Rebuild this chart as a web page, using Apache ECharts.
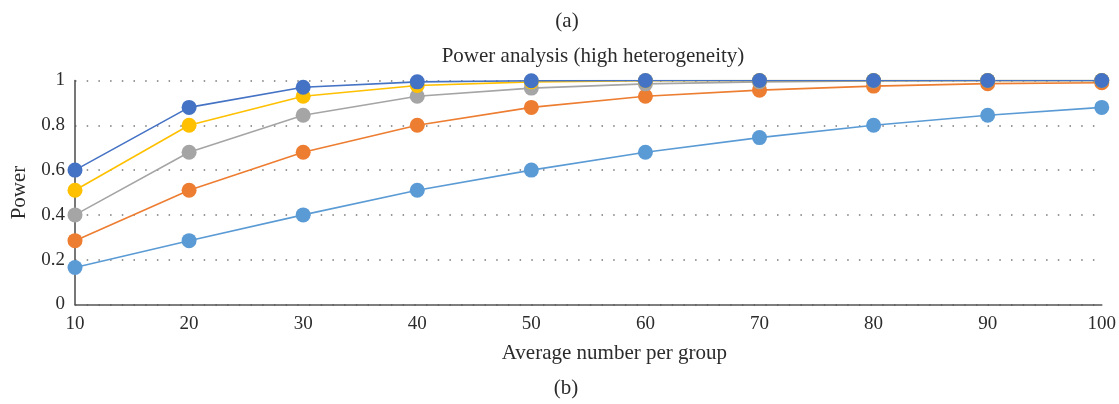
<!DOCTYPE html>
<html>
<head>
<meta charset="utf-8">
<script src="https://cdn.jsdelivr.net/npm/echarts@6/dist/echarts.min.js"></script>
<style>
html,body{margin:0;padding:0;background:#fff;}
#main{width:1119px;height:404px;}
</style>
</head>
<body>
<div id="main"></div>
<script>
// group size along x axis
var groupSizes = [10, 20, 30, 40, 50, 60, 70, 80, 90, 100];
// power values, one array per curve
var powerLightBlue = [0.165, 0.285, 0.40, 0.51, 0.60, 0.68, 0.745, 0.80, 0.845, 0.88];
var powerOrange    = [0.285, 0.51, 0.68, 0.80, 0.88, 0.93, 0.957, 0.975, 0.986, 0.99];
var powerGray      = [0.40, 0.68, 0.845, 0.93, 0.966, 0.985, 0.994, 0.998, 1, 1];
var powerYellow    = [0.51, 0.80, 0.93, 0.978, 0.994, 0.999, 1, 1, 1, 1];
var powerDarkBlue  = [0.60, 0.88, 0.97, 0.994, 0.999, 1, 1, 1, 1, 1];
var yTicks = [0, 0.2, 0.4, 0.6, 0.8, 1];

var FONT = 'Liberation Serif';
var TEXT = '#2b2b2b';

function pairs(ys) {
	var out = [];
	for (var i = 0; i < groupSizes.length; i++) {
		out.push([groupSizes[i], ys[i]]);
	}
	return out;
}

function mkSeries(name, ys, color) {
	return {
		name: name,
		type: 'line',
		data: pairs(ys),
		symbol: 'circle',
		symbolSize: 15,
		lineStyle: {color: color, width: 1.6},
		itemStyle: {color: color},
		animation: false
	};
}

var myChart = echarts.init(document.getElementById('main'));
myChart.setOption({
	backgroundColor: '#fff',
	title: [
		{text: '(a)', left: 562, textAlign: 'center', top: 6, textStyle: {fontFamily: FONT, fontSize: 21, fontWeight: 'normal', color: TEXT}},
		{text: 'Power analysis (high heterogeneity)', left: 588, textAlign: 'center', top: 41, textStyle: {fontFamily: FONT, fontSize: 21, fontWeight: 'normal', color: TEXT}},
		{text: '(b)', left: 561, textAlign: 'center', top: 373, textStyle: {fontFamily: FONT, fontSize: 21, fontWeight: 'normal', color: TEXT}}
	],
	grid: {left: 75, right: 17, top: 80.5, bottom: 99.5, containLabel: false},
	xAxis: {
		type: 'value',
		min: 10,
		max: 100,
		interval: 10,
		name: 'Average number per group',
		nameLocation: 'middle',
		nameGap: 38,
		nameTextStyle: {fontFamily: FONT, fontSize: 21, color: TEXT, padding: [0, 0, 0, 52]},
		axisLine: {lineStyle: {color: '#555', width: 1.6}},
		axisTick: {show: false},
		axisLabel: {fontFamily: FONT, fontSize: 19, color: TEXT, margin: 10},
		splitLine: {show: false}
	},
	yAxis: {
		type: 'value',
		min: 0,
		max: 1,
		interval: 0.2,
		name: 'Power',
		nameLocation: 'middle',
		nameGap: 45,
		nameTextStyle: {fontFamily: FONT, fontSize: 21, color: TEXT},
		axisLine: {show: true, lineStyle: {color: '#555', width: 1.6}},
		axisTick: {show: false},
		axisLabel: {
			fontFamily: FONT, fontSize: 19, color: TEXT, margin: 10,
			formatter: function (v) {
				var r = Math.round(v * 10) / 10;
				return yTicks.indexOf(r) >= 0 ? String(r) : '';
			}
		},
		splitLine: {show: true, lineStyle: {color: '#777', width: 1.5, type: [1.5, 10.2]}}
	},
	series: [
		mkSeries('s1', powerLightBlue, '#5B9BD5'),
		mkSeries('s2', powerOrange, '#ED7D31'),
		mkSeries('s3', powerGray, '#A5A5A5'),
		mkSeries('s4', powerYellow, '#FFC000'),
		mkSeries('s5', powerDarkBlue, '#4472C4')
	]
});
</script>
</body>
</html>
